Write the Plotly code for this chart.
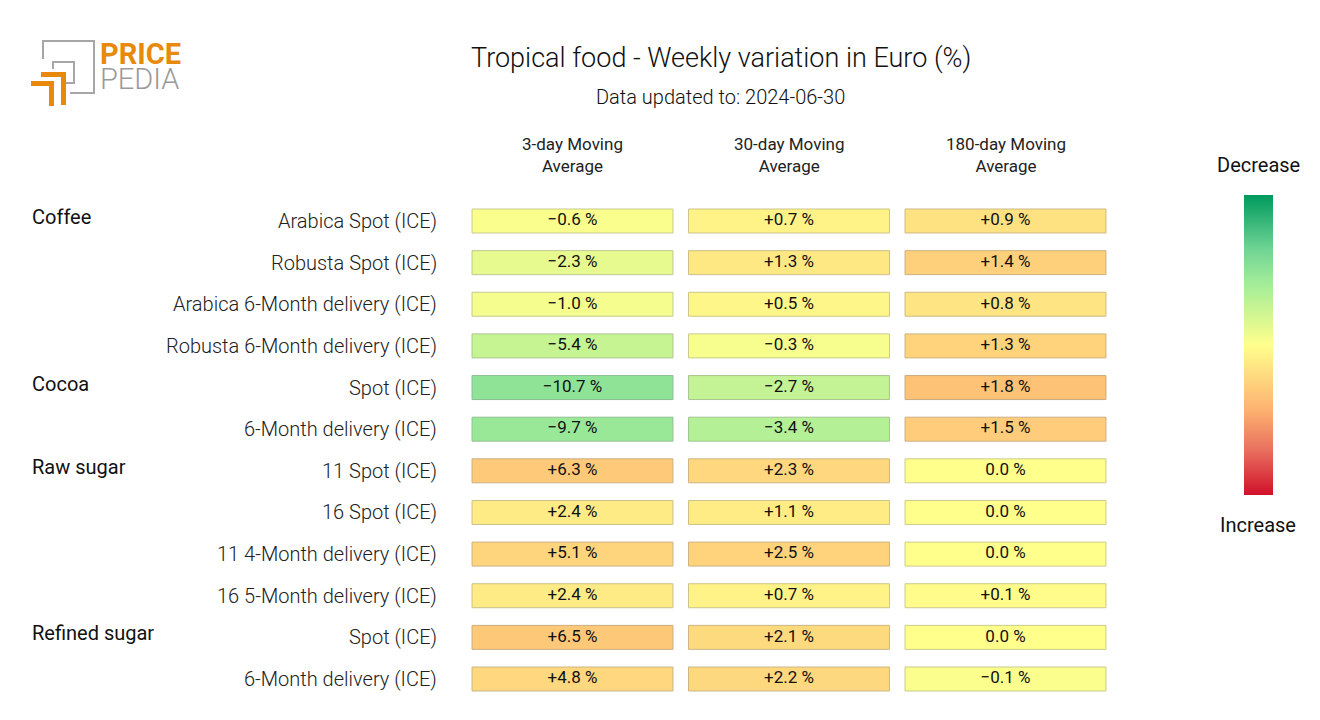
import plotly.graph_objects as go

# ---------------- data ----------------
groups = ["Coffee", "Cocoa", "Raw sugar", "Refined sugar"]
group_start_rows = [0, 4, 6, 10]
row_labels = [
    "Arabica Spot (ICE)",
    "Robusta Spot (ICE)",
    "Arabica 6-Month delivery (ICE)",
    "Robusta 6-Month delivery (ICE)",
    "Spot (ICE)",
    "6-Month delivery (ICE)",
    "11 Spot (ICE)",
    "16 Spot (ICE)",
    "11 4-Month delivery (ICE)",
    "16 5-Month delivery (ICE)",
    "Spot (ICE)",
    "6-Month delivery (ICE)",
]
column_headers = ["3-day Moving<br>Average", "30-day Moving<br>Average", "180-day Moving<br>Average"]
ma3 = [-0.6, -2.3, -1.0, -5.4, -10.7, -9.7, 6.3, 2.4, 5.1, 2.4, 6.5, 4.8]
ma30 = [0.7, 1.3, 0.5, -0.3, -2.7, -3.4, 2.3, 1.1, 2.5, 0.7, 2.1, 2.2]
ma180 = [0.9, 1.4, 0.8, 1.3, 1.8, 1.5, 0.0, 0.0, 0.0, 0.1, 0.0, -0.1]
columns = [ma3, ma30, ma180]
# per-column colour normalisation (value that reaches the end of the scale)
color_norm = [21.3, 10.2, 5.3]

title = "Tropical food - Weekly variation in Euro (%)"
subtitle = "Data updated to: 2024-06-30"

# ---------------- colours ----------------
# position 0 = increase (red), 1 = decrease (green)
scale_stops = [
    (0.00, (208, 16, 42)),
    (0.15, (233, 112, 94)),
    (0.28, (253, 176, 112)),
    (0.50, (255, 255, 140)),
    (0.71, (160, 236, 152)),
    (0.82, (111, 212, 148)),
    (1.00, (0, 154, 94)),
]
colorscale = [[p, "rgb(%d,%d,%d)" % c] for p, c in scale_stops]


def interp(p):
    p = max(0.0, min(1.0, p))
    for (p0, c0), (p1, c1) in zip(scale_stops[:-1], scale_stops[1:]):
        if p0 <= p <= p1:
            f = (p - p0) / (p1 - p0) if p1 > p0 else 0
            return tuple(c0[i] + (c1[i] - c0[i]) * f for i in range(3))
    return scale_stops[-1][1]


def fill_color(v, norm):
    c = interp(0.5 - 0.5 * v / norm)
    return "rgb(%d,%d,%d)" % tuple(round(x) for x in c)


def border_color(v, norm):
    c = interp(0.5 - 0.5 * v / norm)
    g = (140, 140, 140)
    return "rgb(%d,%d,%d)" % tuple(round(0.55 * c[i] + 0.45 * g[i]) for i in range(3))


def fmt(v):
    if abs(v) < 0.05:
        return "0.0 %"
    s = "%+.1f %%" % v
    return s.replace("-", "\u2212")


# ---------------- layout geometry ----------------
# the page body has an 8px margin, so the figure starts at (8, 8)
OFF = 8
W, H = 1304, 704


def px(x):
    return (x - OFF) / W


def py(y):
    return 1 - (y - OFF) / H


LIGHT = "Roboto Light, Roboto"

n_rows = len(row_labels)
cell_w = 0.928
cell_h = 0.576

fig = go.Figure()

for j, col in enumerate(columns):
    fig.add_trace(
        go.Bar(
            orientation="h",
            y=list(range(n_rows)),
            x=[cell_w] * n_rows,
            base=[j + (1 - cell_w) / 2] * n_rows,
            width=cell_h,
            marker=dict(
                color=[fill_color(v, color_norm[j]) for v in col],
                line=dict(color=[border_color(v, color_norm[j]) for v in col], width=1),
            ),
            textposition="none",
            hoverinfo="skip",
            showlegend=False,
        )
    )
    fig.add_trace(
        go.Scatter(
            x=[j + 0.5] * n_rows,
            y=list(range(n_rows)),
            mode="text",
            text=[fmt(v) for v in col],
            textposition="middle center",
            textfont=dict(family="Roboto", size=17, color="#111111"),
            hoverinfo="skip",
            showlegend=False,
        )
    )

# colour bar (legend of the scale)
fig.add_trace(
    go.Scatter(
        x=[None],
        y=[None],
        mode="markers",
        marker=dict(
            color=[0],
            cmin=-1,
            cmax=1,
            colorscale=colorscale,
            showscale=True,
            colorbar=dict(
                x=px(1244),
                xanchor="left",
                y=py(344.5),
                yanchor="middle",
                len=300,
                lenmode="pixels",
                thickness=29,
                thicknessmode="pixels",
                outlinewidth=0,
                showticklabels=False,
                ticks="",
                xpad=0,
                ypad=0,
            ),
        ),
        showlegend=False,
        hoverinfo="skip",
    )
)

annotations = []
# title & subtitle
annotations.append(dict(text=title, x=px(721), y=py(58), xref="paper", yref="paper",
                        showarrow=False, xanchor="center", yanchor="middle",
                        font=dict(family=LIGHT, size=27, color="#111111", weight=300)))
annotations.append(dict(text=subtitle, x=px(720), y=py(97), xref="paper", yref="paper",
                        showarrow=False, xanchor="center", yanchor="middle",
                        font=dict(family=LIGHT, size=20, color="#111111", weight=300)))
# column headers
for j, h in enumerate(column_headers):
    annotations.append(dict(text=h, x=j + 0.5, y=py(155.5), xref="x", yref="paper",
                            showarrow=False, xanchor="center", yanchor="middle",
                            font=dict(family="Roboto", size=17, color="#222222")))
# row labels
for i, lab in enumerate(row_labels):
    annotations.append(dict(text=lab, x=px(439), y=i, xref="paper", yref="y",
                            showarrow=False, xanchor="right", yanchor="middle",
                            font=dict(family=LIGHT, size=20, color="#222222", weight=300)))
# group labels
for g, r in zip(groups, group_start_rows):
    annotations.append(dict(text=g, x=px(30), y=r, xref="paper", yref="y", yshift=4,
                            showarrow=False, xanchor="left", yanchor="middle",
                            font=dict(family="Roboto", size=20, color="#111111")))
# colour bar labels
annotations.append(dict(text="Decrease", x=px(1258), y=py(165), xref="paper", yref="paper",
                        showarrow=False, xanchor="center", yanchor="middle",
                        font=dict(family="Roboto", size=20, color="#111111")))
annotations.append(dict(text="Increase", x=px(1258), y=py(525), xref="paper", yref="paper",
                        showarrow=False, xanchor="center", yanchor="middle",
                        font=dict(family="Roboto", size=20, color="#111111")))
# logo text
annotations.append(dict(text="<b>PRICE</b>", x=px(98), y=py(53), xref="paper", yref="paper",
                        showarrow=False, xanchor="left", yanchor="middle", height=25,
                        font=dict(family="Roboto", size=29, color="#E8890C")))
annotations.append(dict(text="PEDIA", x=px(98), y=py(79), xref="paper", yref="paper",
                        showarrow=False, xanchor="left", yanchor="middle", height=25,
                        font=dict(family=LIGHT, size=29, color="#9a9a9a", weight=300)))

# logo shapes
gray = "#a6a6a6"
orange = "#E8890C"
shapes = []


def path(points):
    return "M " + " L ".join("%f,%f" % (px(x), py(y)) for x, y in points)


shapes.append(dict(type="path", xref="paper", yref="paper",
                   path=path([(43, 59), (43, 41), (94, 41), (94, 93), (70, 93)]),
                   line=dict(color=gray, width=2)))
shapes.append(dict(type="path", xref="paper", yref="paper",
                   path=path([(53, 69), (53, 62), (74, 62), (74, 83), (66, 83)]),
                   line=dict(color=gray, width=2)))
shapes.append(dict(type="path", xref="paper", yref="paper",
                   path=path([(41, 74.5), (63.5, 74.5), (63.5, 105)]),
                   line=dict(color=orange, width=5)))
shapes.append(dict(type="path", xref="paper", yref="paper",
                   path=path([(31, 83.5), (51.5, 83.5), (51.5, 106)]),
                   line=dict(color=orange, width=5)))

y_top_px = 221 - 41.64 / 2
y_bot_px = 679 + 41.64 / 2
x_left_px = 472 - 7.75
x_right_px = 1106 + 7.75

fig.update_layout(
    width=W,
    height=H,
    margin=dict(l=0, r=0, t=0, b=0),
    paper_bgcolor="white",
    plot_bgcolor="white",
    barmode="overlay",
    font=dict(family="Roboto", color="#222222"),
    xaxis=dict(range=[0, 3], domain=[px(x_left_px), px(x_right_px)], visible=False, fixedrange=True),
    yaxis=dict(range=[n_rows - 0.5, -0.5], domain=[py(y_bot_px), py(y_top_px)], visible=False,
               fixedrange=True),
    annotations=annotations,
    shapes=shapes,
    showlegend=False,
)

fig.write_html("out.html")
